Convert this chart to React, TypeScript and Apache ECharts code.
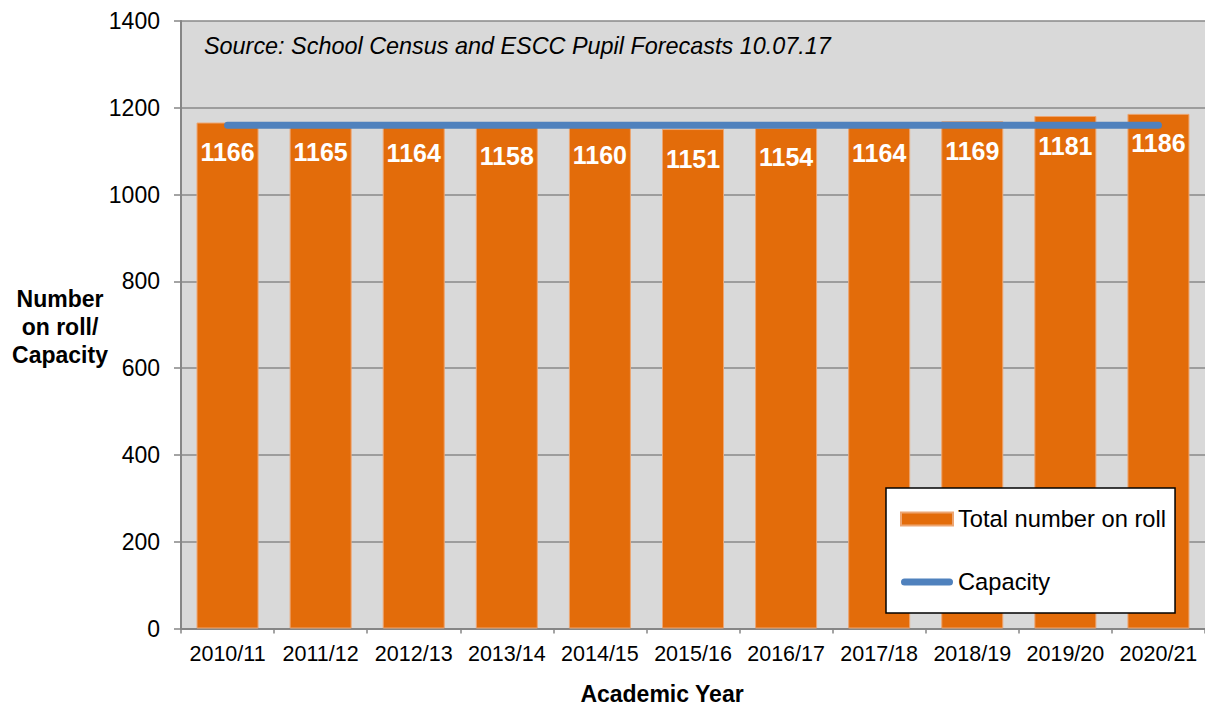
import React, { useEffect, useRef } from "react";
import * as echarts from "echarts";

const categories = [
  "2010/11", "2011/12", "2012/13", "2013/14", "2014/15", "2015/16",
  "2016/17", "2017/18", "2018/19", "2019/20", "2020/21",
];
const totalOnRoll = [1166, 1165, 1164, 1158, 1160, 1151, 1154, 1164, 1169, 1181, 1186];
const capacity = [1160, 1160, 1160, 1160, 1160, 1160, 1160, 1160, 1160, 1160, 1160];
const yTicks = { min: 0, max: 1400, interval: 200 };

const FONT = "Arial, 'Liberation Sans', sans-serif";
const LINE_ICON = "path://M3.5,0 L48.5,0 A3.5,3.5 0 0 1 48.5,7 L3.5,7 A3.5,3.5 0 0 1 3.5,0 Z";

export default function App() {
  const ref = useRef<HTMLDivElement>(null);
  useEffect(() => {
    if (!ref.current) return;
    const chart = echarts.init(ref.current, null, { renderer: "svg" });
    chart.setOption({
      animation: false,
      backgroundColor: "#ffffff",
      textStyle: { fontFamily: FONT },
      grid: {
        show: true,
        left: 181,
        top: 21,
        width: 1027,
        height: 607.5,
        backgroundColor: "#D9D9D9",
        borderWidth: 0,
      },
      legend: {
        orient: "vertical",
        left: 886,
        top: 488,
        padding: [19, 9, 19, 14],
        itemGap: 39,
        itemWidth: 52,
        itemHeight: 13,
        backgroundColor: "#ffffff",
        borderColor: "#000000",
        borderWidth: 1.5,
        borderRadius: 0,
        textStyle: { fontSize: 23.7, color: "#000000", fontFamily: FONT },
        data: [
          { name: "Total number on roll", icon: "rect" },
          { name: "Capacity", icon: LINE_ICON },
        ],
      },
      xAxis: {
        type: "category",
        data: categories,
        axisLine: { lineStyle: { color: "#868686", width: 2 } },
        axisTick: { show: true, length: 5, lineStyle: { color: "#868686", width: 1.5 } },
        axisLabel: { interval: 0, fontSize: 21.5, color: "#000000", margin: 14, fontFamily: FONT },
        splitLine: { show: false },
      },
      yAxis: {
        type: "value",
        min: yTicks.min,
        max: yTicks.max,
        interval: yTicks.interval,
        axisLine: { show: true, lineStyle: { color: "#868686", width: 2 } },
        axisTick: { show: true, length: 7, lineStyle: { color: "#868686", width: 1.5 } },
        axisLabel: {
          fontSize: 23,
          color: "#000000",
          margin: 21,
          fontFamily: FONT,
          formatter: (v: number) => String(v),
        },
        splitLine: { show: true, lineStyle: { color: "#898989", width: 1.5 } },
      },
      graphic: [
        {
          type: "text",
          left: 204,
          top: 34,
          style: {
            text: "Source: School Census and ESCC Pupil Forecasts 10.07.17",
            fontSize: 23.4,
            fontStyle: "italic",
            fill: "#000000",
            fontFamily: FONT,
          },
        },
        {
          type: "text",
          x: 60,
          y: 327,
          style: {
            text: "Number\non roll/\nCapacity",
            fontSize: 23,
            fontWeight: "bold",
            lineHeight: 28,
            align: "center",
            verticalAlign: "middle",
            fill: "#000000",
            fontFamily: FONT,
          },
        },
        {
          type: "text",
          x: 662,
          y: 694,
          style: {
            text: "Academic Year",
            fontSize: 23,
            fontWeight: "bold",
            lineHeight: 20,
            align: "center",
            verticalAlign: "middle",
            fill: "#000000",
            fontFamily: FONT,
          },
        },
      ],
      series: [
        {
          name: "Total number on roll",
          type: "bar",
          data: totalOnRoll,
          barWidth: 62,
          itemStyle: { color: "#E36C0A", borderColor: "#EDA571", borderWidth: 1 },
          label: {
            show: true,
            position: "insideTop",
            distance: 17,
            fontSize: 25,
            fontWeight: "bold",
            color: "#ffffff",
            fontFamily: FONT,
          },
          z: 2,
        },
        {
          name: "Capacity",
          type: "line",
          data: capacity,
          symbol: "none",
          lineStyle: { color: "#4F81BD", width: 7, cap: "round" },
          itemStyle: { color: "#4F81BD" },
          z: 3,
        },
      ],
    });
    return () => chart.dispose();
  }, []);
  return (
    <div
      ref={ref}
      style={{ position: "fixed", left: 0, top: 0, width: 1205, height: 706 }}
    />
  );
}
